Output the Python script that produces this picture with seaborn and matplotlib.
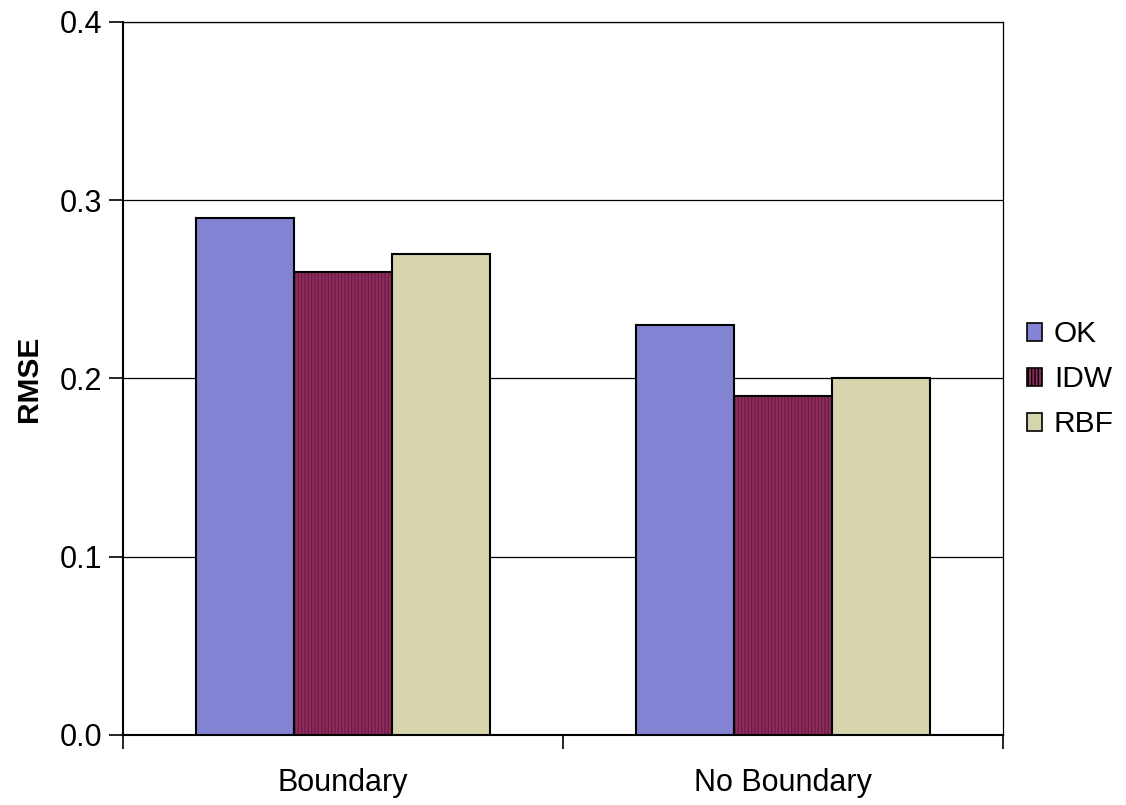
import matplotlib
matplotlib.use("Agg")
import matplotlib.pyplot as plt
import seaborn as sns
import pandas as pd
from matplotlib.patches import Patch

categories = ["Boundary", "No Boundary"]
methods = ["OK", "IDW", "RBF"]
ok_vals = [0.29, 0.23]
idw_vals = [0.26, 0.19]
rbf_vals = [0.27, 0.20]

colors = {"OK": "#8383d3", "IDW": "#8e2d5e", "RBF": "#d6d4ac"}
hatches = {"OK": "", "IDW": "|||||", "RBF": ""}
hatch_colors = {"IDW": "#6e1c46"}

rows = []
for m, vals in zip(methods, [ok_vals, idw_vals, rbf_vals]):
    for c, v in zip(categories, vals):
        rows.append({"Category": c, "Method": m, "RMSE": v})
df = pd.DataFrame(rows)

sns.set_style("white", {"xtick.bottom": True, "ytick.left": True,
                        "text.color": "black", "xtick.color": "black",
                        "ytick.color": "black", "axes.labelcolor": "black"})
plt.rcParams["font.family"] = ["Liberation Sans", "DejaVu Sans"]
plt.rcParams["hatch.linewidth"] = 1.0

fig = plt.figure(figsize=(11.26, 8.05), dpi=100)
ax = fig.add_axes([0.1092, 0.0870, 0.7816, 0.8857])

sns.barplot(data=df, x="Category", y="RMSE", hue="Method", order=categories,
            hue_order=methods, palette=colors, width=2/3, gap=0,
            edgecolor="black", linewidth=1.5, saturation=1, ax=ax, legend=False)

for container, m in zip(ax.containers, methods):
    for bar in container:
        bar.set_hatch(hatches[m])
        bar.set_zorder(3)
        if m in hatch_colors:
            bar._hatch_color = matplotlib.colors.to_rgba(hatch_colors[m])

ax.set_xlim(-0.5, 1.5)
ax.set_ylim(0, 0.4)
ax.set_yticks([0.0, 0.1, 0.2, 0.3, 0.4])
ax.set_yticklabels(["0.0", "0.1", "0.2", "0.3", "0.4"])
ax.yaxis.grid(True, color="black", linewidth=0.9)
ax.set_axisbelow(True)

# category boundary ticks on the x axis, labels centred under each group
ax.set_xticks([-0.5, 0.5, 1.5], minor=False)
ax.set_xticklabels([])
ax.set_xticks([0, 1], minor=True)
ax.set_xticklabels(categories, minor=True)
ax.tick_params(axis="x", which="major", bottom=True, direction="out", length=10,
               width=1.2, color="black")
ax.tick_params(axis="x", which="minor", bottom=True, length=0, labelsize=22,
               pad=24, labelcolor="black")
ax.tick_params(axis="y", left=True, direction="out", length=10, width=1.2,
               color="black", labelsize=22, pad=5, labelcolor="black")

ax.set_xlabel("")
ax.set_ylabel("RMSE", fontsize=21.5, fontweight="bold", labelpad=12, color="black")

for side in ["left", "bottom", "top", "right"]:
    ax.spines[side].set_visible(True)
    ax.spines[side].set_color("black")
ax.spines["left"].set_linewidth(1.5)
ax.spines["bottom"].set_linewidth(1.5)
ax.spines["top"].set_linewidth(0.9)
ax.spines["right"].set_linewidth(0.9)

handles = [Patch(facecolor=colors[m], edgecolor="black", linewidth=1.2,
                 hatch=hatches[m]) for m in methods]
leg = fig.legend(handles, methods, loc="center left", bbox_to_anchor=(0.912, 0.5286),
                 frameon=False, fontsize=21.5, handlelength=0.52, handleheight=0.52,
                 handletextpad=0.38, labelspacing=0.57, borderpad=0, borderaxespad=0)
for t in leg.get_texts():
    t.set_color("black")

fig.savefig("out.png", dpi=100, facecolor="white")
